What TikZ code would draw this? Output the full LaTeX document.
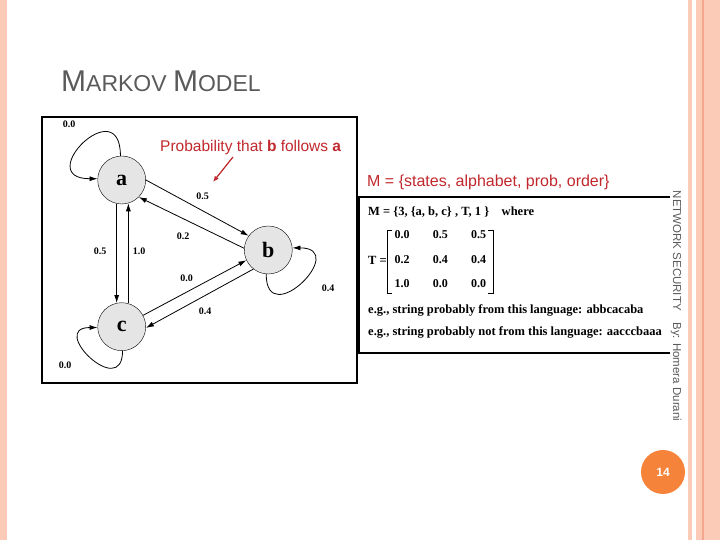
\documentclass[tikz,border=0pt]{standalone}
\usepackage{fontspec}
\setmainfont{Liberation Serif}
\setsansfont{Liberation Sans}
\usetikzlibrary{arrows.meta}
\definecolor{peach}{HTML}{FBCBB8}
\definecolor{peachdark}{HTML}{F3A88E}
\definecolor{slidegray}{HTML}{5A5A5A}
\definecolor{labelred}{HTML}{C0282D}
\definecolor{pageorange}{HTML}{F5843A}
\tikzset{
  state/.style={circle, draw, fill=black!10, minimum size=48pt, inner sep=0pt,
    font=\fontsize{22}{24}\selectfont\bfseries},
  arr/.style={-{Latex[length=8pt,width=5pt]}, line width=0.8pt},
  prob/.style={font=\fontsize{10}{12}\selectfont\bfseries, inner sep=1pt},
  boxtext/.style={anchor=west, inner sep=0pt, font=\fontsize{12.5}{14}\selectfont\bfseries},
  redtext/.style={anchor=west, inner sep=0pt, text=labelred, font=\sffamily\fontsize{15.5}{17}\selectfont}
}
\begin{document}
\begin{tikzpicture}[x=1pt,y=1pt]
\useasboundingbox (0,0) rectangle (720,540);
% slide frame
\fill[peach] (0,0) rectangle (7,540);
\fill[peach] (688,0) rectangle (692,540);
\fill[peach] (696,0) rectangle (720,540);
\fill[peachdark] (702,0) rectangle (703.5,540);
\node[anchor=west, inner sep=0pt, text=slidegray, font=\sffamily] (title) at (61,459)
  {\fontsize{30}{32}\selectfont M\fontsize{23}{25}\selectfont ARKOV \fontsize{30}{32}\selectfont M\fontsize{23}{25}\selectfont ODEL};
% state diagram
\draw[line width=1.5pt] (42,157) rectangle (357,423);
\node[state] (a) at (121.7,360) {a};
\node[state] (b) at (268.3,290) {b};
\node[state] (c) at (121.7,213.3) {c};
\draw[arr] (a.93) to[out=90,in=180,distance=66pt] (a.177);
\draw[arr] (b.265) to[out=270,in=0,distance=58pt] (b.5);
\draw[arr] (c.272) to[out=270,in=180,distance=50pt] (c.182);
\draw[arr] (a.0) -- (b.144);
\draw[arr] (b.176) -- (a.-45);
\draw[arr] (a.-102) -- (c.102);
\draw[arr] (c.74) -- (a.-74);
\draw[arr] (c.28) -- (b.-155);
\draw[arr] (b.-128) -- (c.-3);
\node[prob] (paa) at (69,416) {0.0};
\node[prob] (pbb) at (328,252) {0.4};
\node[prob] (pcc) at (65,175) {0.0};
\node[prob] (pab) at (202.7,343.3) {0.5};
\node[prob] (pba) at (183,303.3) {0.2};
\node[prob] (pac) at (100,288.3) {0.5};
\node[prob] (pca) at (139,288.3) {1.0};
\node[prob] (pcb) at (186.7,262) {0.0};
\node[prob] (pbc) at (205,228.3) {0.4};
\node[redtext] (hint) at (160,392) {Probability that \textbf{b} follows \textbf{a}};
\coordinate (hintend) at (213,358);
\draw[labelred, line width=1.2pt, -{Latex[length=6pt,width=5pt]}] (233,383) -- (hintend);
% model definition
\node[redtext, font=\sffamily\fontsize{16}{18}\selectfont] (model) at (367,358) {M = \{states, alphabet, prob, order\}};
\draw[line width=1.5pt] (359,187) rectangle (672,343);
\node[boxtext] (mdef) at (368,328) {M = \{3, \{a, b, c\} , T, 1 \}\quad where};
\node[boxtext] (tlab) at (368,280) {T =};
\foreach \row/\y in {{0.0,0.5,0.5}/305, {0.2,0.4,0.4}/280, {1.0,0.0,0.0}/256.7} {
  \foreach \val [count=\j] in \row {
    \pgfmathsetmacro\x{402+38.3*(\j-1)}
    \node[prob, font=\fontsize{12}{14}\selectfont\bfseries] at (\x,\y) {\val};
  }
}
\draw[line width=0.8pt] (392,310) -- (387,310) -- (387,247) -- (392,247);
\draw[line width=0.8pt] (488,310) -- (493,310) -- (493,247) -- (488,247);
\node[boxtext] (ex1) at (368,230) {e.g., string probably from this language: abbcacaba};
\node[boxtext] (ex2) at (368,208) {e.g., string probably not from this language: aacccbaaa};
% footer
\node[rotate=-90, fill=white, inner sep=1pt, text=slidegray, font=\sffamily\fontsize{11.5}{13}\selectfont] (footer) at (676,234)
  {NETWORK SECURITY\quad By: Homera Durani};
\node[circle, fill=pageorange, minimum size=44pt, inner sep=0pt, text=white,
  font=\sffamily\bfseries\fontsize{12}{14}\selectfont] (page) at (663,68) {14};
\end{tikzpicture}
\end{document}
